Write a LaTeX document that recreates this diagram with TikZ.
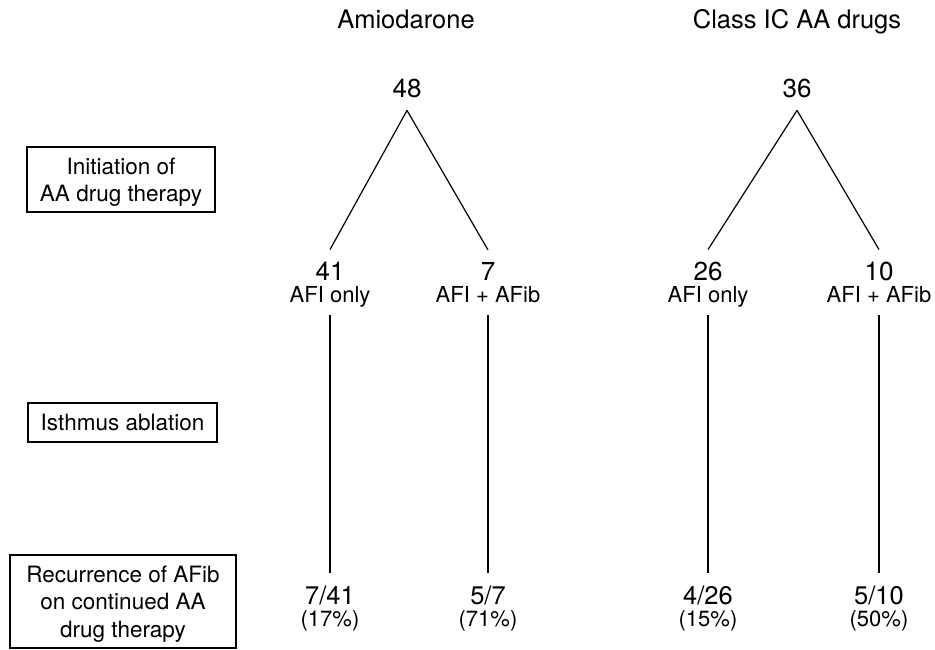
\documentclass[tikz,border=0pt]{standalone}
\usepackage{fontspec}
\setmainfont{TeX Gyre Heros}
\usetikzlibrary{positioning}

\tikzset{
    grouptitle/.style={font=\fontsize{25.5}{30}\selectfont, anchor=base, inner sep=0pt},
    count/.style={font=\fontsize{26}{30}\selectfont, anchor=base, inner sep=0pt, outer sep=12pt},
    kind/.style={font=\fontsize{22}{26}\selectfont, anchor=base, inner sep=0pt, outer sep=8pt, text depth=5pt},
    ratio/.style={font=\fontsize{25.5}{30}\selectfont, anchor=base, inner sep=0pt, outer sep=12pt},
    percent/.style={font=\fontsize{22}{26}\selectfont, anchor=base, inner sep=0pt},
    stagebox/.style={draw, line width=1.3pt, font=\fontsize{22.5}{27.3}\selectfont,
        align=center, inner sep=0pt, text depth=0pt},
    branch/.style={line width=1.2pt},
}

\begin{document}
\begin{tikzpicture}[x=1pt, y=-1pt]
        \useasboundingbox (0,0) rectangle (935,650);

        % etapas
        \node[stagebox, minimum width=188pt, minimum height=65pt] (initbox) at (121,179.5)
            {Initiation of\\AA drug therapy};
        \node[stagebox, minimum width=189pt, minimum height=39pt] (ablbox) at (122.5,422.5)
            {Isthmus ablation};
        \node[stagebox, minimum width=226pt, minimum height=93pt] (recbox) at (123,601.5)
            {Recurrence of AFib\\on continued AA\\drug therapy};

        % Amiodarone
        \node[grouptitle] (amio) at (406,29) {Amiodarone};
        \node[count] (n48) at (407,98) {48};
        \node[count] (n41) at (330,280) {41};
        \node[kind] (k41) at (330,302) {AFI only};
        \node[count] (n7) at (488,280) {7};
        \node[kind] (k7) at (488,302) {AFI + AFib};
        \node[ratio] (r41) at (330,604) {7/41};
        \node[percent] (p41) at (330,626) {(17\%)};
        \node[ratio] (r7) at (488,604) {5/7};
        \node[percent] (p7) at (488,626) {(71\%)};

        \draw[branch] (n48.south) -- (n41.north);
        \draw[branch] (n48.south) -- (n7.north);
        \draw[branch] (k41.south) -- (r41.north);
        \draw[branch] (k7.south) -- (r7.north);

        % Class IC
        \node[grouptitle] (classic) at (797,29) {Class IC AA drugs};
        \node[count] (n36) at (797,98) {36};
        \node[count] (n26) at (708,280) {26};
        \node[kind] (k26) at (708,302) {AFI only};
        \node[count] (n10) at (879,280) {10};
        \node[kind] (k10) at (879,302) {AFI + AFib};
        \node[ratio] (r26) at (708,604) {4/26};
        \node[percent] (p26) at (708,626) {(15\%)};
        \node[ratio] (r10) at (879,604) {5/10};
        \node[percent] (p10) at (879,626) {(50\%)};

        \draw[branch] (n36.south) -- (n26.north);
        \draw[branch] (n36.south) -- (n10.north);
        \draw[branch] (k26.south) -- (r26.north);
        \draw[branch] (k10.south) -- (r10.north);
\end{tikzpicture}
\end{document}
